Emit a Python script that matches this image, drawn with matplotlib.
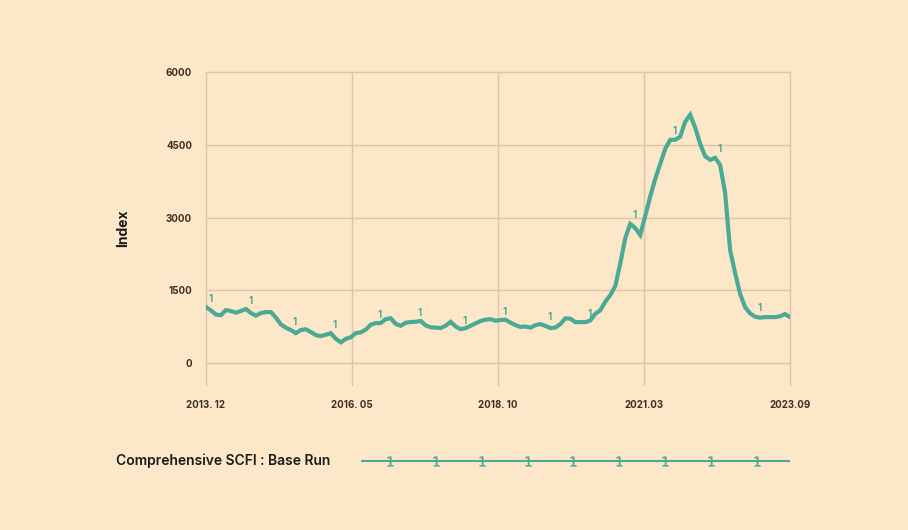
import numpy as np
import matplotlib
matplotlib.use('Agg')
from matplotlib import pyplot as plt

# Comprehensive SCFI, monthly, 2013.12 - 2023.09
scfi = [1156, 1087, 1001, 990, 1094, 1073, 1040, 1077, 1115, 1034,
        980, 1032, 1053, 1053, 940, 799, 730, 683, 619, 683,
        698, 640, 580, 557, 585, 617, 504, 428, 501, 533,
        619, 635, 690, 792, 826, 826, 908, 925, 811, 769,
        833, 846, 854, 870, 779, 739, 732, 725, 770, 851,
        757, 702, 722, 770, 820, 868, 895, 906, 875, 888,
        896, 836, 784, 747, 756, 732, 784, 805, 769, 722,
        734, 807, 924, 917, 846, 846, 846, 879, 1019, 1089,
        1268, 1403, 1590, 2060, 2580, 2869, 2784, 2642, 3038, 3435,
        3798, 4107, 4417, 4603, 4603, 4665, 4974, 5119, 4853, 4520,
        4264, 4190, 4231, 4087, 3509, 2332, 1858, 1430, 1156, 1025,
        957, 939, 949, 949, 949, 967, 1011, 949]
x_labels = ['2013. 12', '2016. 05', '2018. 10', '2021.03', '2023.09']
y_ticks = [0, 1500, 3000, 4500, 6000]
series_name = 'Comprehensive SCFI : Base Run'

bg = '#fde7c9'
grid_c = '#dfc3a6'
line_c = '#4aaa96'
text_c = '#3b3024'

plt.rcParams['font.family'] = ['Inter', 'DejaVu Sans']

fig = plt.figure(figsize=(9.08, 5.30), dpi=100, facecolor=bg)
ax = fig.add_axes([206 / 908, 1 - 385 / 530, 584 / 908, 313 / 530])
ax.set_facecolor(bg)

months = np.arange(len(scfi))
ax.plot(months, scfi, color=line_c, linewidth=3.0, solid_joinstyle='miter', zorder=3)

# подписи "1" над лінією
for i in np.arange(0, len(scfi) - 1, 8.5).astype(int):
    ax.annotate('1', (months[i], scfi[i]), xytext=(1.5, 2.5), textcoords='offset points',
                ha='left', va='bottom', fontsize=7, fontweight='bold', color=line_c, zorder=4)

ax.set_xlim(0, len(scfi) - 1)
ax.set_ylim(-450, 6000)
ax.set_xticks(np.linspace(0, len(scfi) - 1, len(x_labels)))
ax.set_xticklabels(x_labels)
ax.set_yticks(y_ticks)
ax.grid(True, color=grid_c, linewidth=1, clip_on=False)
ax.set_axisbelow(True)
for s in ax.spines.values():
    s.set_visible(False)
ax.tick_params(length=0, labelsize=7, labelcolor=text_c)
ax.tick_params(axis='x', pad=11)
ax.tick_params(axis='y', pad=10)
for lbl in ax.get_xticklabels() + ax.get_yticklabels():
    lbl.set_fontweight('bold')
ax.set_ylabel('Index', fontsize=10, fontweight='bold', color='#1a1a1a', labelpad=26)

# легенда внизу
fig.text(116 / 908, 1 - 461 / 530, series_name, fontsize=10, fontweight='semibold',
         color='#1a1a1a', ha='left', va='center')
lax = fig.add_axes([361 / 908, 1 - 470 / 530, 429 / 908, 18 / 530])
lax.set_xlim(0, 1)
lax.set_ylim(-1, 1)
lax.axis('off')
lax.plot([0, 1], [0, 0], color=line_c, linewidth=1.5)
lax.plot(np.linspace(0.068, 0.922, 9), np.zeros(9), linestyle='none',
         marker='$1$', markersize=7, markeredgewidth=0.3, color=line_c)

fig.savefig('out.png', dpi=100, facecolor=bg)
